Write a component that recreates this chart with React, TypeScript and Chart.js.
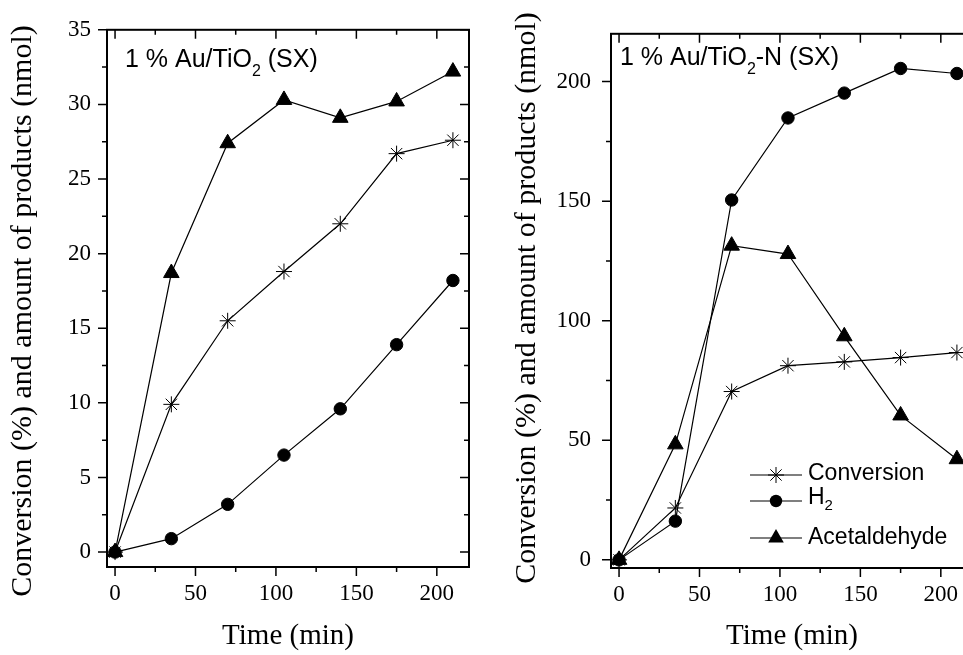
import React, { useEffect, useRef } from "react";
import { Chart, registerables } from "chart.js";

Chart.register(...registerables);

// ---------- data ----------
const timeMin = [0, 35, 70, 105, 140, 175, 210];

// Panel A: 1 % Au/TiO2 (SX)
const conversionA = [0, 9.9, 15.5, 18.8, 22.0, 26.7, 27.6];
const h2A = [0, 0.9, 3.2, 6.5, 9.6, 13.9, 18.2];
const acetaldehydeA = [0, 18.7, 27.4, 30.3, 29.1, 30.2, 32.2];

// Panel B: 1 % Au/TiO2-N (SX)
const conversionB = [0, 21.7, 70.4, 81.2, 82.8, 84.6, 86.7];
const h2B = [0, 16.2, 150.5, 184.8, 195.2, 205.5, 203.4];
const acetaldehydeB = [0, 48.3, 131.4, 127.9, 93.5, 60.4, 42.1];

const xTicks = [0, 50, 100, 150, 200];
const xMinorTicks = [25, 75, 125, 175];
const yTicksA = [0, 5, 10, 15, 20, 25, 30, 35];
const yMinorTicksA = [2.5, 7.5, 12.5, 17.5, 22.5, 27.5, 32.5];
const yTicksB = [0, 50, 100, 150, 200];
const yMinorTicksB = [25, 75, 125, 175];

const seriesNames = ["Conversion", "H", "Acetaldehyde"];
const seriesSubs = ["", "2", ""];
const xTitle = "Time (min)";
const yTitle = "Conversion (%) and amount of products (nmol)";
const annotationA = ["1 % Au/TiO", "2", " (SX)"];
const annotationB = ["1 % Au/TiO", "2", "-N (SX)"];

const SERIF = "'Liberation Serif', 'Times New Roman', Times, serif";
const SANS = "'Liberation Sans', Arial, Helvetica, sans-serif";

type Panel = {
  conv: number[];
  h2: number[];
  acet: number[];
  yMin: number;
  yMax: number;
  yTicks: number[];
  yMinor: number[];
  top: number;
  padRight: number;
  yAxisWidth: number;
  xAxisHeight: number;
  yTickPad: number;
  yTitleX: number;
  yTitleY: number;
  annot: string[];
  annotX: number;
  annotY: number;
  legend: boolean;
};

function drawMarker(ctx: CanvasRenderingContext2D, style: string, x: number, y: number, r: number) {
  ctx.beginPath();
  if (style === "circle") {
    ctx.arc(x, y, r, 0, Math.PI * 2);
    ctx.fill();
  } else if (style === "triangle") {
    let a = 0;
    ctx.moveTo(x + Math.sin(a) * r, y - Math.cos(a) * r);
    a += (2 * Math.PI) / 3;
    ctx.lineTo(x + Math.sin(a) * r, y - Math.cos(a) * r);
    a += (2 * Math.PI) / 3;
    ctx.lineTo(x + Math.sin(a) * r, y - Math.cos(a) * r);
    ctx.closePath();
    ctx.fill();
  } else {
    for (let k = 0; k < 4; k++) {
      const a = (k * Math.PI) / 4;
      ctx.moveTo(x - Math.cos(a) * r, y - Math.sin(a) * r);
      ctx.lineTo(x + Math.cos(a) * r, y + Math.sin(a) * r);
    }
    ctx.lineWidth = 1;
    ctx.stroke();
  }
}

function drawSubText(ctx: CanvasRenderingContext2D, parts: string[], x: number, y: number, size: number) {
  let cx = x;
  parts.forEach((t, i) => {
    const sub = i % 2 === 1;
    ctx.font = `${sub ? Math.round(size * 0.65) : size}px ${SANS}`;
    ctx.fillText(t, cx, sub ? y + size * 0.36 : y);
    cx += ctx.measureText(t).width;
  });
}

function makePanelPlugin(p: Panel) {
  return {
    id: "panelDecor",
    afterDatasetsDraw(chart: any) {
      const { ctx, chartArea: a } = chart;
      const xs = chart.scales.x;
      const ys = chart.scales.y;
      ctx.save();
      ctx.strokeStyle = "#000";
      ctx.fillStyle = "#000";
      ctx.lineWidth = 1.5;
      ctx.beginPath();
      const xTick = (v: number, len: number) => {
        const px = xs.getPixelForValue(v);
        ctx.moveTo(px, a.bottom);
        ctx.lineTo(px, a.bottom + len);
        ctx.moveTo(px, a.top);
        ctx.lineTo(px, a.top + len);
      };
      const yTick = (v: number, len: number) => {
        const py = ys.getPixelForValue(v);
        ctx.moveTo(a.left, py);
        ctx.lineTo(a.left - len, py);
        ctx.moveTo(a.right, py);
        ctx.lineTo(a.right - len, py);
      };
      xTicks.forEach((v) => xTick(v, 9));
      xMinorTicks.forEach((v) => xTick(v, 5));
      p.yTicks.forEach((v) => yTick(v, 9));
      p.yMinor.forEach((v) => yTick(v, 5));
      ctx.stroke();
      ctx.lineWidth = 2;
      ctx.strokeRect(a.left, a.top, a.right - a.left, a.bottom - a.top);

      // annotation
      ctx.textBaseline = "alphabetic";
      ctx.textAlign = "left";
      drawSubText(ctx, p.annot, p.annotX, p.annotY, 25);

      // y title
      ctx.save();
      ctx.translate(p.yTitleX, p.yTitleY);
      ctx.rotate(-Math.PI / 2);
      ctx.font = `30px ${SERIF}`;
      ctx.textAlign = "center";
      ctx.textBaseline = "middle";
      ctx.fillText(yTitle, 0, 0);
      ctx.restore();

      // legend
      if (p.legend) {
        const rows = [475, 501, 538];
        const textRows = [474, 498, 538];
        chart.data.datasets.forEach((d: any, i: number) => {
          const y = rows[i];
          ctx.lineWidth = 1.2;
          ctx.beginPath();
          ctx.moveTo(260, y);
          ctx.lineTo(312, y);
          ctx.stroke();
          drawMarker(ctx, d.pointStyle, 286, y, d.pointRadius);
          ctx.textBaseline = "middle";
          drawSubText(ctx, [seriesNames[i], seriesSubs[i]], 318, textRows[i], 23);
        });
      }
      ctx.restore();
    },
  };
}

function buildChart(canvas: HTMLCanvasElement, p: Panel) {
  const ds = (label: string, vals: number[], style: string, r: number) => ({
    label,
    data: timeMin.map((t, i) => ({ x: t, y: vals[i] })),
    borderColor: "#000",
    backgroundColor: "#000",
    borderWidth: 1.2,
    pointStyle: style,
    pointRadius: r,
    pointHoverRadius: r,
    pointBorderColor: "#000",
    pointBackgroundColor: "#000",
    pointBorderWidth: 1,
    tension: 0,
    fill: false,
  });
  return new Chart(canvas, {
    type: "line",
    data: {
      datasets: [
        ds(seriesNames[0], p.conv, "star", 8),
        ds(seriesNames[1] + seriesSubs[1], p.h2, "circle", 6.2),
        ds(seriesNames[2], p.acet, "triangle", 9),
      ],
    },
    options: {
      animation: false,
      responsive: false,
      maintainAspectRatio: false,
      devicePixelRatio: 1,
      events: [],
      layout: { padding: { left: 0, top: p.top, right: p.padRight, bottom: 0 } },
      plugins: { legend: { display: false }, tooltip: { enabled: false }, title: { display: false } },
      scales: {
        x: {
          type: "linear",
          min: -5,
          max: 220,
          grid: { display: false, drawTicks: false },
          border: { display: false },
          ticks: { font: { family: SERIF, size: 23 }, color: "#000", padding: 13, maxRotation: 0, autoSkip: false },
          afterBuildTicks: (s: any) => {
            s.ticks = xTicks.map((v) => ({ value: v }));
          },
          afterFit: (s: any) => {
            s.height = p.xAxisHeight;
          },
          title: {
            display: true,
            text: xTitle,
            font: { family: SERIF, size: 29 },
            color: "#000",
            padding: { top: 0, bottom: 1 },
          },
        },
        y: {
          type: "linear",
          min: p.yMin,
          max: p.yMax,
          grid: { display: false, drawTicks: false },
          border: { display: false },
          ticks: { font: { family: SERIF, size: 23 }, color: "#000", padding: p.yTickPad, autoSkip: false },
          afterBuildTicks: (s: any) => {
            s.ticks = p.yTicks.map((v) => ({ value: v }));
          },
          afterFit: (s: any) => {
            s.width = p.yAxisWidth;
          },
        },
      },
    } as any,
    plugins: [makePanelPlugin(p) as any],
  });
}

export default function App() {
  const leftRef = useRef<HTMLCanvasElement>(null);
  const rightRef = useRef<HTMLCanvasElement>(null);

  useEffect(() => {
    const a = buildChart(leftRef.current!, {
      conv: conversionA,
      h2: h2A,
      acet: acetaldehydeA,
      yMin: -1,
      yMax: 35,
      yTicks: yTicksA,
      yMinor: yMinorTicksA,
      top: 24,
      padRight: 11,
      yAxisWidth: 107,
      xAxisHeight: 88,
      yTickPad: 16,
      yTitleX: 23,
      yTitleY: 311,
      annot: annotationA,
      annotX: 125,
      annotY: 67,
      legend: false,
    });
    const b = buildChart(rightRef.current!, {
      conv: conversionB,
      h2: h2B,
      acet: acetaldehydeB,
      yMin: -3.4,
      yMax: 220,
      yTicks: yTicksB,
      yMinor: yMinorTicksB,
      top: 26,
      padRight: 37,
      yAxisWidth: 121,
      xAxisHeight: 87,
      yTickPad: 20,
      yTitleX: 37,
      yTitleY: 298,
      annot: annotationB,
      annotX: 130,
      annotY: 65,
      legend: true,
    });
    return () => {
      a.destroy();
      b.destroy();
    };
  }, []);

  return (
    <div
      style={{
        position: "fixed",
        left: 0,
        top: 0,
        width: 963,
        height: 655,
        overflow: "hidden",
        background: "#fff",
      }}
    >
      <canvas ref={leftRef} width={480} height={655} style={{ position: "absolute", left: 0, top: 0 }} />
      <canvas ref={rightRef} width={520} height={655} style={{ position: "absolute", left: 490, top: 0 }} />
    </div>
  );
}
